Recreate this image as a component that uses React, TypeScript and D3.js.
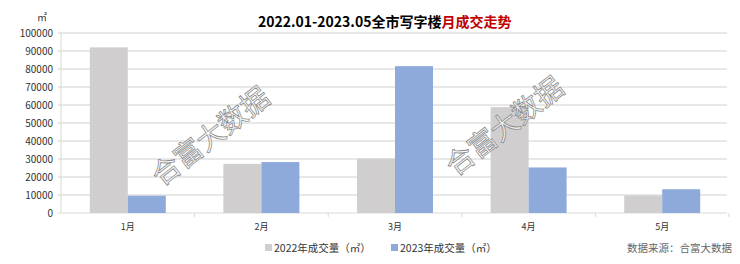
import React from "react";
import * as d3 from "d3";

const categories = ["1月", "2月", "3月", "4月", "5月"];
const series2022 = [92000, 27300, 30200, 58800, 9800];
const series2023 = [9600, 28300, 81600, 25300, 13200];
const yTicks = [0, 10000, 20000, 30000, 40000, 50000, 60000, 70000, 80000, 90000, 100000];
const seriesNames = ["2022年成交量（㎡）", "2023年成交量（㎡）"];
const colors = ["#d0cece", "#8eaadb"];

const W = 740, H = 264;
const left = 61, right = 729, top = 33, bottom = 213;
const font = "'Noto Sans CJK SC', 'Noto Sans', sans-serif";

export default function App() {
  const x = d3.scaleBand<string>().domain(categories).range([left, right]).paddingInner(0).paddingOuter(0);
  const y = d3.scaleLinear().domain([0, 100000]).range([bottom, top]);
  const bw = 38;
  const data = [series2022, series2023];
  const watermarks = [[212, 138], [506, 128]];
  return (
    <svg width={W} height={H} style={{ position: "absolute", left: 0, top: 0, background: "#fff" }} fontFamily={font}>
      <text x={258} y={27} fontSize={14} fontWeight="bold" fill="#000">
        2022.01-2023.05全市写字楼<tspan fill="#c00000">月成交走势</tspan>
      </text>
      <text x={37} y={21} fontSize={10} fill="#333">㎡</text>
      {yTicks.map((t) => (
        <g key={t}>
          <line x1={left - 3} x2={right - 2} y1={y(t)} y2={y(t)} stroke={t === 0 ? "#d9d9d9" : "#d0d0d0"} strokeWidth={1} />
          <text x={53} y={y(t) + 3.5} fontSize={10} textAnchor="end" fill="#333">{t}</text>
        </g>
      ))}
      <line x1={left} x2={left} y1={top} y2={bottom} stroke="#d9d9d9" />
      {categories.map((c, i) => (
        <g key={c}>
          <line x1={x(c)! + x.bandwidth()} x2={x(c)! + x.bandwidth()} y1={bottom} y2={bottom + 4} stroke="#d9d9d9" />
          <text x={x(c)! + x.bandwidth() / 2} y={230} fontSize={9} textAnchor="middle" fill="#333">{c}</text>
          {data.map((s, k) => (
            <rect key={k} x={x(c)! + x.bandwidth() / 2 - bw + k * bw} y={y(s[i])} width={bw} height={bottom - y(s[i])} fill={colors[k]} />
          ))}
        </g>
      ))}
      {watermarks.map(([cx, cy], i) => (
        <text key={i} x={cx} y={cy} fontSize={28} textAnchor="middle" dominantBaseline="middle"
          transform={`rotate(-38 ${cx} ${cy})`} fill="#fff" fillOpacity={0.7} stroke="#8c8c8c" strokeWidth={0.8}>合富大数据</text>
      ))}
      <rect x={265} y={244} width={7} height={7} fill={colors[0]} />
      <text x={274} y={252} fontSize={10.5} fill="#333">{seriesNames[0]}</text>
      <rect x={391} y={244} width={7} height={7} fill={colors[1]} />
      <text x={400} y={252} fontSize={10.5} fill="#333">{seriesNames[1]}</text>
      <text x={732} y={252} fontSize={10.5} textAnchor="end" fill="#666">数据来源：合富大数据</text>
    </svg>
  );
}
